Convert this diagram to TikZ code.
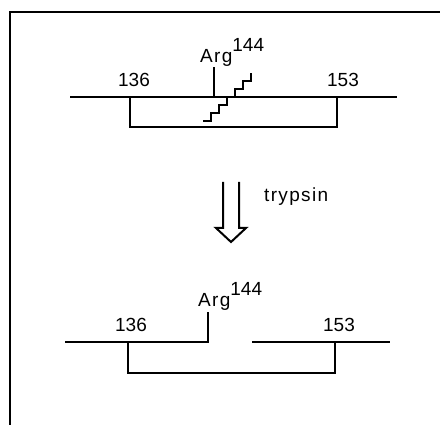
\documentclass[tikz,border=0pt]{standalone}
\usepackage{fontspec}
\setmainfont{Liberation Sans}
\newfontfamily\wordfont[LetterSpace=7]{Liberation Sans}
\usetikzlibrary{positioning, calc}
\tikzstyle{chain} = [line width=2pt]
\tikzstyle{frame} = [line width=2.4pt]
\tikzstyle{resid} = [font=\fontsize{19}{21}\selectfont, inner sep=0pt, anchor=base]
\newcommand{\argres}{{\wordfont Arg}\raisebox{11pt}{144}}

\begin{document}
\begin{tikzpicture}[x=1pt, y=-1pt]
  \useasboundingbox (0,0) rectangle (440,425);

  % Frame
  \coordinate (fbl) at (10,425);
  \coordinate (ftl) at (10,12);
  \coordinate (ftr) at (440,12);
  \draw[frame] (fbl) -- (ftl) -- (ftr);

  % Intact chain
  \coordinate (tleft) at (70,97);
  \coordinate (tright) at (397,97);
  \coordinate (tcys1) at (130,97);
  \coordinate (tcys2) at (337,97);
  \coordinate (targ) at (214,97);
  \draw[chain] (tleft) -- (tright);
  \draw[chain] (tcys1) -- ++(0,30) -| (tcys2);
  \draw[chain] (targ) -- ++(0,-30) coordinate (targtop);
  \node[resid] (tlab1) at (134,87) {136};
  \node[resid] (tlab2) at (343,87) {153};
  \node[resid, anchor=base west] (targlab) at (200,63) {\argres};

  % Cleavage site
  \coordinate (zz) at (203,121);
  \draw[chain] (zz) \foreach \i in {1,...,6} { -- ++(8,0) -- ++(0,-8) };

  % Arrow
  \coordinate (arr) at (231,242);
  \draw[chain, line join=miter] ($(arr)+(-8,-60)$) -- ($(arr)+(-8,-14)$)
    -- ($(arr)+(-15,-14)$) -- (arr) -- ($(arr)+(15,-14)$)
    -- ($(arr)+(8,-14)$) -- ($(arr)+(8,-60)$);
  \node[resid, anchor=base west] (enz) at (264,202) {\wordfont trypsin};

  % Cleaved chain
  \coordinate (bleft) at (65,342);
  \coordinate (bcut) at (208,342);
  \coordinate (bnext) at (252,342);
  \coordinate (bright) at (390,342);
  \coordinate (bcys1) at (128,342);
  \coordinate (bcys2) at (335,342);
  \draw[chain] (bleft) -- (bcut) -- ++(0,-30) coordinate (bargtop);
  \draw[chain] (bnext) -- (bright);
  \draw[chain] (bcys1) -- ++(0,31) -| (bcys2);
  \node[resid] (blab1) at (131,332) {136};
  \node[resid] (blab2) at (339,332) {153};
  \node[resid, anchor=base west] (barglab) at (198,307) {\argres};
\end{tikzpicture}
\end{document}
